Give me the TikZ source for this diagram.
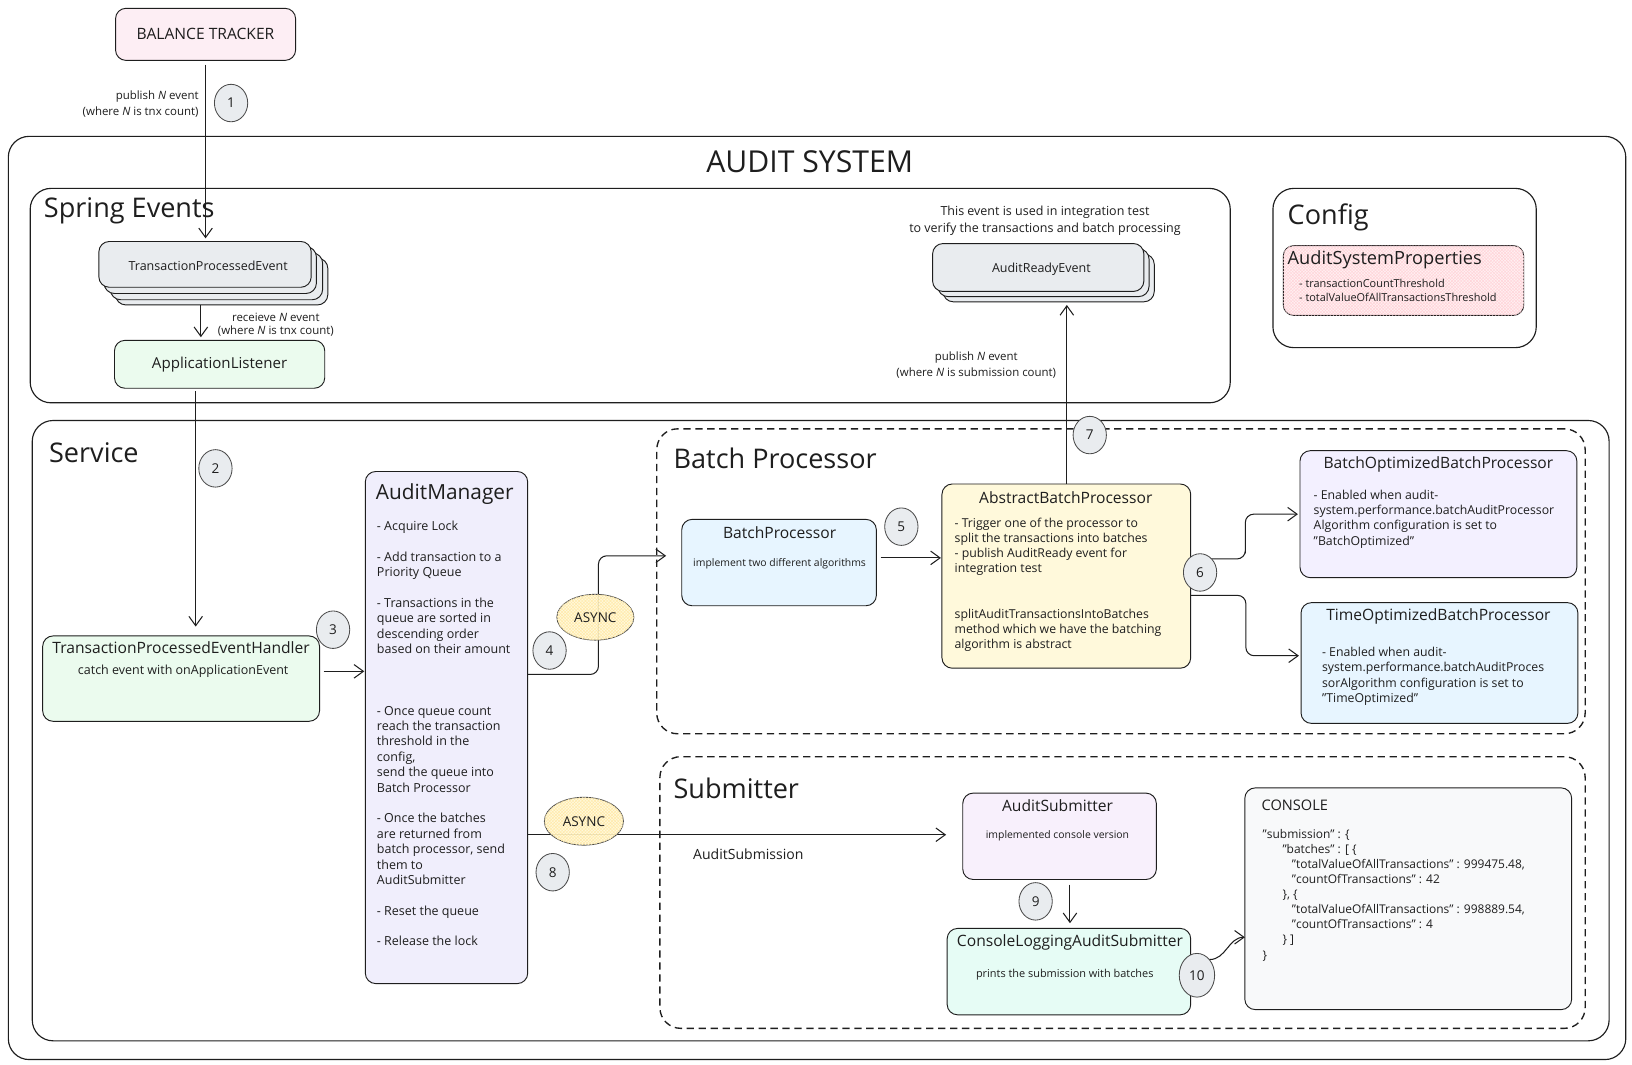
\documentclass[tikz,border=0pt]{standalone}
\usepackage{fontspec}
\setmainfont{Open Sans}
\usetikzlibrary{arrows.meta,shapes.geometric,patterns,calc}
\definecolor{ink}{HTML}{1E1E1E}
\definecolor{bpink}{HTML}{FDEEF4}
\definecolor{cardgray}{HTML}{E9ECEF}
\definecolor{lgreen}{HTML}{EBFBEE}
\definecolor{lpurple}{HTML}{F0EEFC}
\definecolor{lblue}{HTML}{E7F5FF}
\definecolor{lyellow}{HTML}{FFF9DB}
\definecolor{vpurple}{HTML}{F3F0FF}
\definecolor{lmauve}{HTML}{F8F0FC}
\definecolor{lteal}{HTML}{E6FCF5}
\definecolor{lgray}{HTML}{F8F9FA}
\definecolor{asyncfill}{HTML}{FFF8D6}
\definecolor{asynchatch}{HTML}{FFE9A8}
\definecolor{propfill}{HTML}{FFF0F2}
\definecolor{prophatch}{HTML}{FFD3D8}
\begin{document}
\begin{tikzpicture}[x=1pt,y=-1pt,
  every node/.style={text=ink},
  cont/.style={draw=ink, line width=1.1pt, rounded corners=20pt, anchor=north west, inner sep=0pt, outer sep=0pt},
  dcont/.style={draw=ink, line width=1.3pt, dash pattern=on 7pt off 4.5pt, rounded corners=20pt, anchor=north west, inner sep=0pt, outer sep=0pt},
  box/.style={draw=ink, line width=0.9pt, rounded corners=10pt, anchor=north west, inner sep=0pt, outer sep=0pt},
  ctitle/.style={anchor=west, inner sep=0pt, font=\fontsize{26}{30}\selectfont},
  btitle/.style={inner sep=0pt, font=\fontsize{15}{18}\selectfont},
  sub/.style={inner sep=0pt, font=\fontsize{10}{12}\selectfont},
  lbl/.style={inner sep=0pt, font=\fontsize{11}{15}\selectfont},
  body/.style={inner sep=0pt, anchor=north west, align=left},
  num/.style={ellipse, draw=ink!80, line width=0.8pt, fill=cardgray, minimum width=32pt, minimum height=36pt, inner sep=0pt, font=\fontsize{13}{15}\selectfont},
  async/.style={ellipse, draw=ink!80, line width=0.8pt, fill=asyncfill, fill opacity=0.85, text opacity=1, postaction={pattern=crosshatch, pattern color=asynchatch}, inner sep=0pt, font=\fontsize{13}{15}\selectfont},
  arr/.style={draw=ink, line width=1pt, -{Straight Barb[length=9pt,width=13pt,line width=1pt]}}
]
\useasboundingbox (0,0) rectangle (1568,1023);
\fill[white] (0,0) rectangle (1568,1023);

% ---------- containers ----------
\node[cont, minimum width=1554pt, minimum height=887pt] (audit) at (8,131) {};
\node[inner sep=0pt, font=\fontsize{29}{32}\selectfont] (auditT) at (778,155) {AUDIT SYSTEM};
\node[cont, minimum width=1153pt, minimum height=206pt] (spring) at (29,181) {};
\node[ctitle] (springT) at (42,203) {Spring Events};
\node[cont, minimum width=253pt, minimum height=153pt] (config) at (1223,181) {};
\node[ctitle] (configT) at (1237,209) {Config};
\node[cont, minimum width=1515pt, minimum height=596pt] (service) at (31,404) {};
\node[ctitle] (serviceT) at (47,435) {Service};
\node[dcont, minimum width=892pt, minimum height=293pt] (bpc) at (631,412) {};
\node[ctitle] (bpcT) at (647,440) {Batch Processor};
\node[dcont, minimum width=889pt, minimum height=261pt] (subc) at (634,727) {};
\node[ctitle] (subcT) at (647,757) {Submitter};

% ---------- top ----------
\node[box, fill=bpink, minimum width=173pt, minimum height=50pt] (bt) at (111,8) {};
\node[inner sep=0pt, font=\fontsize{15}{18}\selectfont] (btT) at (bt.center) {BALANCE TRACKER};
\node[lbl, anchor=north east, align=right] (l1) at (191,87) {publish \textit{N} event\\(where \textit{N} is tnx count)};

% TransactionProcessedEvent stack
\node[box, fill=cardgray, minimum width=204pt, minimum height=45pt] (tpe3) at (111,248) {};
\node[box, fill=cardgray, minimum width=204pt, minimum height=45pt] (tpe2) at (106,243) {};
\node[box, fill=cardgray, minimum width=204pt, minimum height=45pt] (tpe1) at (100,237) {};
\node[box, fill=cardgray, minimum width=204pt, minimum height=44pt] (tpe) at (95,232) {};
\node[inner sep=0pt, font=\fontsize{12}{14}\selectfont] (tpeT) at ([xshift=3pt,yshift=-1pt]tpe.center) {TransactionProcessedEvent};
\node[lbl, align=center, font=\fontsize{11}{12.5}\selectfont] (l2) at (265,312) {receieve \textit{N} event\\(where \textit{N} is tnx count)};

\node[box, fill=lgreen, minimum width=202pt, minimum height=46pt] (al) at (110,327) {};
\node[inner sep=0pt, font=\fontsize{14.5}{17}\selectfont] (alT) at (al.center) {ApplicationListener};

% AuditReadyEvent stack
\node[lbl, align=center, font=\fontsize{12}{16}\selectfont] (l3) at (1004,212) {This event is used in integration test\\to verify the transactions and batch processing};
\node[box, fill=cardgray, minimum width=203pt, minimum height=46pt] (are2) at (906,244) {};
\node[box, fill=cardgray, minimum width=203pt, minimum height=46pt] (are1) at (901,239) {};
\node[box, fill=cardgray, minimum width=203pt, minimum height=46pt] (are) at (896,234) {};
\node[inner sep=0pt, font=\fontsize{12}{14}\selectfont] (areT) at ([xshift=3pt,yshift=-2pt]are.center) {AuditReadyEvent};
\node[lbl, align=center] (l7) at (938,351) {publish \textit{N} event\\(where \textit{N} is submission count)};

% Config
\node[box, fill=propfill, minimum width=231pt, minimum height=67pt, postaction={pattern=crosshatch, pattern color=prophatch}] (asp) at (1233,236) {};
\node[inner sep=0pt, anchor=west, font=\fontsize{17.5}{20}\selectfont] (aspT) at (1237,250) {AuditSystemProperties};
\node[body, font=\fontsize{10.5}{13.5}\selectfont] (aspB) at (1248,268) {- transactionCountThreshold\\- totalValueOfAllTransactionsThreshold};

% ---------- service ----------
\node[box, fill=lgreen, minimum width=266pt, minimum height=82pt] (tpeh) at (41,611) {};
\node[btitle] (tpehT) at (174,622) {TransactionProcessedEventHandler};
\node[inner sep=0pt, font=\fontsize{12}{14}\selectfont] (tpehB) at (176,645) {catch event with onApplicationEvent};

\node[box, fill=lpurple, minimum width=156pt, minimum height=492pt] (am) at (351,453) {};
\node[inner sep=0pt, anchor=west, font=\fontsize{20}{24}\selectfont] (amT) at (361,475) {AuditManager};
\node[body, font=\fontsize{12}{14.78}\selectfont] (amB) at (362,500.5) {- Acquire Lock\\[14.78pt]- Add transaction to a\\Priority Queue\\[14.78pt]- Transactions in the\\queue are sorted in\\descending order\\based on their amount\\[44.3pt]- Once queue count\\reach the transaction\\threshold in the\\config,\\send the queue into\\Batch Processor\\[14.78pt]- Once the batches\\are returned from\\batch processor, send\\them to\\AuditSubmitter\\[14.78pt]- Reset the queue\\[14.78pt]- Release the lock};

% Batch processor
\node[box, fill=lblue, minimum width=187pt, minimum height=83pt] (bproc) at (655,499) {};
\node[btitle] (bprocT) at (749,512) {BatchProcessor};
\node[sub] (bprocB) at (749,542) {implement two different algorithms};

\node[box, fill=lyellow, minimum width=239pt, minimum height=177pt] (abp) at (905,465) {};
\node[btitle] (abpT) at (1024,478) {AbstractBatchProcessor};
\node[body, font=\fontsize{11.8}{14.5}\selectfont] (abpB) at (917,497.6) {- Trigger one of the processor to\\split the transactions into batches\\- publish AuditReady event for\\integration test\\[29pt]splitAuditTransactionsIntoBatches\\method which we have the batching\\algorithm is abstract};

\node[box, fill=vpurple, minimum width=266pt, minimum height=122pt] (bobp) at (1249,433) {};
\node[btitle] (bobpT) at (1382,446) {BatchOptimizedBatchProcessor};
\node[body, font=\fontsize{11.8}{14.7}\selectfont] (bobpB) at (1262,470.6) {- Enabled when audit-\\system.performance.batchAuditProcessor\\Algorithm configuration is set to\\"BatchOptimized"};

\node[box, fill=lblue, minimum width=266pt, minimum height=116pt] (tobp) at (1250,579) {};
\node[btitle] (tobpT) at (1382,592) {TimeOptimizedBatchProcessor};
\node[body, font=\fontsize{11.8}{14.7}\selectfont] (tobpB) at (1270,621.6) {- Enabled when audit-\\system.performance.batchAuditProces\\sorAlgorithm configuration is set to\\"TimeOptimized"};

% Submitter
\node[box, fill=lmauve, minimum width=186pt, minimum height=83pt] (as) at (925,762) {};
\node[btitle] (asT) at (1016,774) {AuditSubmitter};
\node[sub] (asB) at (1016,803) {implemented console version};

\node[box, fill=lteal, minimum width=234pt, minimum height=83pt] (clas) at (910,892) {};
\node[btitle] (clasT) at (1028,905) {ConsoleLoggingAuditSubmitter};
\node[sub, font=\fontsize{10.5}{12}\selectfont] (clasB) at (1023,936) {prints the submission with batches};

\node[box, fill=lgray, minimum width=314pt, minimum height=213pt] (console) at (1196,757) {};
\node[inner sep=0pt, anchor=west, font=\fontsize{14}{16}\selectfont] (consoleT) at (1212,774) {CONSOLE};
\node[body, font=\fontsize{11.5}{14.5}\selectfont] (consoleB) at (1213,796.5) {"submission" : \{\\\hspace*{19pt}"batches" : [ \{\\\hspace*{28pt}"totalValueOfAllTransactions" : 999475.48,\\\hspace*{28pt}"countOfTransactions" : 42\\\hspace*{19pt}\}, \{\\\hspace*{28pt}"totalValueOfAllTransactions" : 998889.54,\\\hspace*{28pt}"countOfTransactions" : 4\\\hspace*{19pt}\} ]\\\}};

\node[inner sep=0pt, font=\fontsize{13.5}{16}\selectfont] (lsub) at (719,821) {AuditSubmission};

% ---------- connectors ----------
\coordinate (a4) at (640,534);
\draw[arr, shorten <=4pt, shorten >=3pt] (bt.south) -- (bt.south |- tpe.north);
\draw[arr, shorten >=3pt] ([xshift=-20pt]tpe3.south) -- ([xshift=-20pt]tpe3.south |- al.north);
\draw[arr, shorten <=3pt, shorten >=9pt] ([xshift=-23pt]al.south) -- ([xshift=-23pt]al.south |- tpeh.north);
\draw[arr, shorten <=4pt, shorten >=1pt] ([yshift=7pt]tpeh.east) -- ([yshift=7pt]tpeh.east -| am.west);
\draw[arr, rounded corners=8pt] ([yshift=51pt]am.east) -| ($(a4)+(-65,0)$) -- (a4);
\draw[arr, shorten <=4pt, shorten >=1pt] ([yshift=4.5pt]bproc.east) -- ([yshift=4.5pt]bproc.east -| abp.west);
\draw[arr, rounded corners=8pt, shorten >=2pt] ([yshift=16.5pt]abp.east) -| ($(abp.east)!0.5!(bobp.west)$) |- (bobp.west);
\draw[arr, rounded corners=8pt, shorten >=2pt] ([yshift=-18.5pt]abp.east) -| ($(abp.east)!0.5!([yshift=7pt]tobp.west)$) |- ([yshift=7pt]tobp.west);
\draw[arr, shorten >=3pt] ([xshift=0.5pt]abp.north) -- ([xshift=0.5pt]abp.north |- are2.south);
\draw[arr, shorten >=16pt] ([yshift=-103pt]am.east) -- ([yshift=-103pt]am.east -| as.west);
\draw[arr, shorten <=5pt, shorten >=5pt] ([xshift=10pt]as.south) -- ([xshift=10pt]as.south |- clas.north);

% ---------- async + numbers ----------
\node[async, minimum width=74pt, minimum height=44pt] (async1) at (572,593) {ASYNC};
\node[async, minimum width=76pt, minimum height=46pt] (async2) at (561,789) {ASYNC};

\node[num] (n1) at (222,99) {1};
\node[num] (n2) at (207,450) {2};
\node[num] (n3) at (320,605) {3};
\node[num] (n4) at (528,625) {4};
\node[num] (n5) at (866,506) {5};
\node[num] (n6) at (1153,550) {6};
\node[num] (n7) at (1047,418) {7};
\node[num] (n8) at (531,838) {8};
\node[num] (n9) at (995,866) {9};
\node[num, minimum width=34pt, minimum height=42pt] (n10) at (1150,937) {10};
\draw[arr] (n10.north east) to[out=0, in=180] ([yshift=-37pt]console.west);
\end{tikzpicture}
\end{document}
